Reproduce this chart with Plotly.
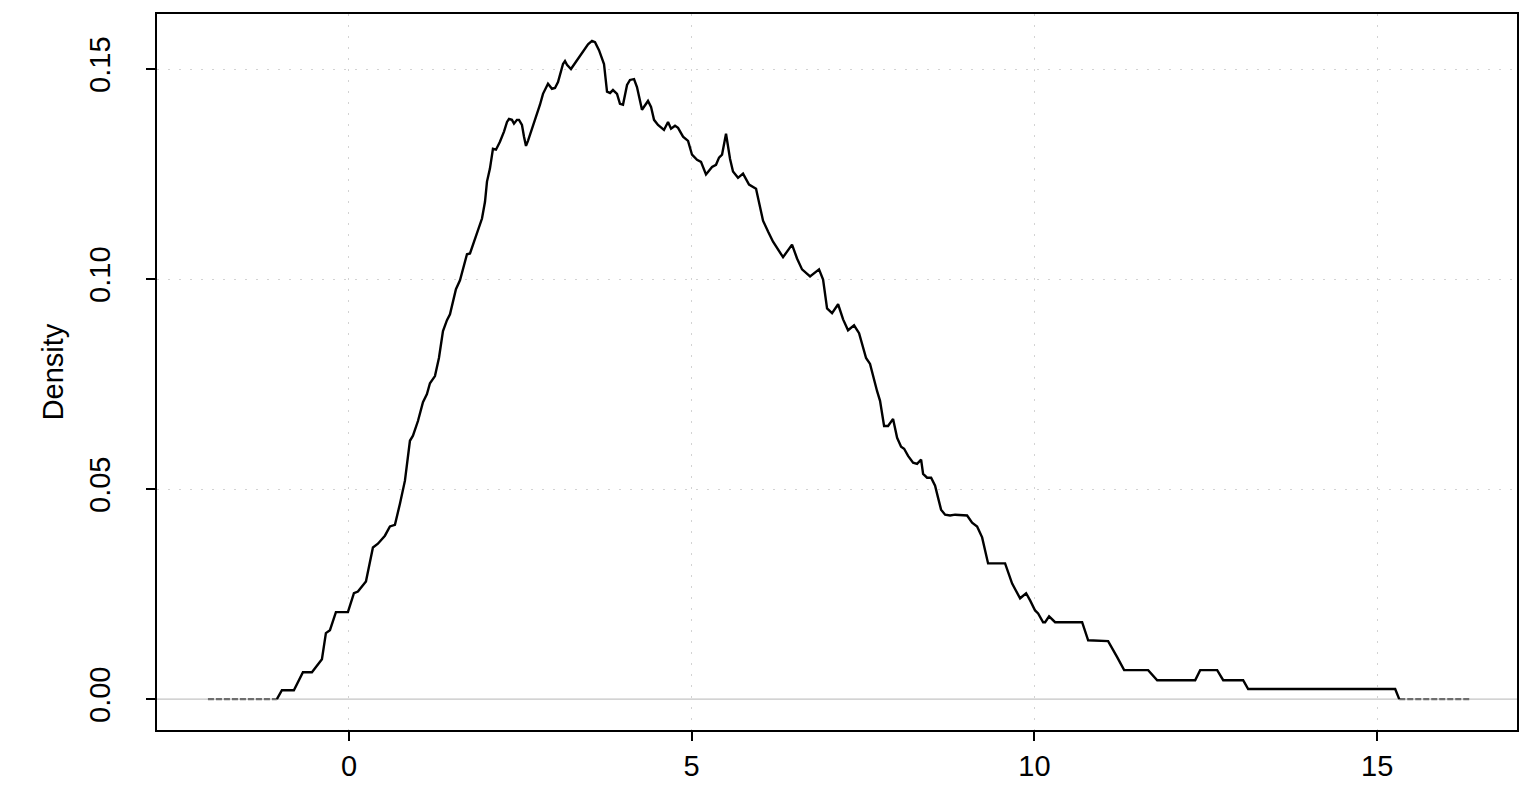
import plotly.graph_objects as go

# Density curve (x value, density)
dens_x = [-1.051, -0.978, -0.803, -0.671, -0.540, -0.394, -0.336, -0.277, -0.190, -0.015,
          0.073, 0.131, 0.248, 0.350, 0.423, 0.525, 0.598, 0.671, 0.744, 0.817,
          0.890, 0.934, 1.007, 1.080, 1.138, 1.182, 1.255, 1.313, 1.372, 1.430,
          1.474, 1.561, 1.620, 1.722, 1.766, 1.839, 1.941, 1.985, 2.014, 2.057,
          2.101, 2.145, 2.203, 2.262, 2.306, 2.335, 2.378, 2.408, 2.451, 2.481,
          2.524, 2.554, 2.583, 2.612, 2.670, 2.743, 2.787, 2.831, 2.889, 2.904,
          2.962, 3.006, 3.050, 3.123, 3.152, 3.181, 3.239, 3.298, 3.371, 3.415,
          3.488, 3.546, 3.590, 3.648, 3.721, 3.765, 3.809, 3.852, 3.911, 3.954,
          3.998, 4.057, 4.100, 4.159, 4.202, 4.275, 4.319, 4.363, 4.407, 4.451,
          4.509, 4.596, 4.655, 4.699, 4.757, 4.801, 4.874, 4.947, 5.005, 5.078,
          5.136, 5.209, 5.297, 5.355, 5.399, 5.443, 5.501, 5.560, 5.603, 5.676,
          5.749, 5.837, 5.939, 5.983, 6.041, 6.114, 6.187, 6.333, 6.464, 6.537,
          6.610, 6.727, 6.858, 6.917, 6.975, 7.048, 7.136, 7.209, 7.281, 7.369,
          7.442, 7.544, 7.602, 7.705, 7.748, 7.807, 7.865, 7.938, 7.997, 8.055,
          8.099, 8.157, 8.230, 8.288, 8.347, 8.376, 8.434, 8.493, 8.551, 8.595,
          8.638, 8.697, 8.770, 8.843, 9.018, 9.091, 9.164, 9.237, 9.324, 9.572,
          9.675, 9.791, 9.879, 9.937, 10.010, 10.054, 10.127, 10.156, 10.214, 10.302,
          10.696, 10.784, 11.075, 11.207, 11.309, 11.659, 11.791, 12.345, 12.418, 12.666,
          12.754, 13.045, 13.118, 15.263, 15.322]
dens_y = [0.0, 0.0021, 0.0021, 0.0064, 0.0064, 0.0095, 0.0157, 0.0164, 0.0207, 0.0207,
          0.0252, 0.0256, 0.0280, 0.0361, 0.0370, 0.0389, 0.0411, 0.0415, 0.0465, 0.0520,
          0.0615, 0.0627, 0.0662, 0.0707, 0.0726, 0.0752, 0.0769, 0.0812, 0.0876, 0.0902,
          0.0916, 0.0976, 0.0997, 0.1059, 0.1061, 0.1097, 0.1144, 0.1184, 0.1232, 0.1263,
          0.1310, 0.1308, 0.1327, 0.1351, 0.1374, 0.1381, 0.1379, 0.1370, 0.1379, 0.1379,
          0.1367, 0.1339, 0.1317, 0.1329, 0.1358, 0.1391, 0.1415, 0.1441, 0.1462, 0.1465,
          0.1453, 0.1455, 0.1469, 0.1512, 0.1519, 0.1510, 0.1500, 0.1514, 0.1529, 0.1540,
          0.1559, 0.1567, 0.1564, 0.1545, 0.1512, 0.1446, 0.1443, 0.1450, 0.1441, 0.1417,
          0.1415, 0.1462, 0.1474, 0.1476, 0.1457, 0.1403, 0.1415, 0.1424, 0.1410, 0.1379,
          0.1367, 0.1355, 0.1374, 0.1358, 0.1365, 0.1360, 0.1339, 0.1329, 0.1296, 0.1284,
          0.1279, 0.1249, 0.1267, 0.1272, 0.1289, 0.1296, 0.1346, 0.1286, 0.1256, 0.1241,
          0.1251, 0.1225, 0.1215, 0.1180, 0.1139, 0.1113, 0.1089, 0.1052, 0.1082, 0.1049,
          0.1023, 0.1006, 0.1023, 0.0999, 0.0930, 0.0919, 0.0940, 0.0904, 0.0878, 0.0890,
          0.0871, 0.0812, 0.0798, 0.0733, 0.0710, 0.0650, 0.0650, 0.0667, 0.0622, 0.0601,
          0.0596, 0.0579, 0.0563, 0.0560, 0.0570, 0.0536, 0.0527, 0.0527, 0.0508, 0.0479,
          0.0451, 0.0439, 0.0437, 0.0439, 0.0437, 0.0420, 0.0411, 0.0385, 0.0323, 0.0323,
          0.0275, 0.0240, 0.0252, 0.0235, 0.0211, 0.0204, 0.0183, 0.0183, 0.0197, 0.0183,
          0.0183, 0.0140, 0.0138, 0.0100, 0.0069, 0.0069, 0.0045, 0.0045, 0.0069, 0.0069,
          0.0045, 0.0045, 0.0024, 0.0024, 0.0]

# flat tails at zero
tail_left_x = [-2.057, -1.051]
tail_right_x = [15.322, 16.343]
tail_y = [0.0, 0.0]

x_ticks = [0, 5, 10, 15]
y_ticks = [0.0, 0.05, 0.10, 0.15]
y_tick_text = ["0.00", "0.05", "0.10", "0.15"]
y_title = "Density"

FONT = "Liberation Sans, Arial, sans-serif"
FS = 29

fig = go.Figure()
fig.add_shape(type="line", xref="paper", x0=0, x1=1, yref="y", y0=0, y1=0,
              line=dict(color="#c4c4c4", width=1.2), layer="below")
for tx in (tail_left_x, tail_right_x):
    fig.add_trace(go.Scatter(x=tx, y=tail_y, mode="lines",
                             line=dict(color="#6e6e6e", width=2.4, dash="6px,2px"),
                             hoverinfo="skip", showlegend=False))
fig.add_trace(go.Scatter(x=dens_x, y=dens_y, mode="lines",
                         line=dict(color="black", width=2.4),
                         showlegend=False))

fig.update_layout(
    width=1518, height=790,
    margin=dict(l=149, r=9, t=4, b=68),
    paper_bgcolor="white", plot_bgcolor="white",
    font=dict(family=FONT, size=FS, color="black"),
    showlegend=False,
)
fig.update_xaxes(
    range=[-2.80, 17.04], tickvals=x_ticks, ticks="outside", ticklen=9,
    tickwidth=1.5, tickcolor="black", showline=True, mirror=True,
    linecolor="black", linewidth=1.5, showgrid=True, gridcolor="#d3d3d3",
    gridwidth=1, griddash="2px,9px", zeroline=False,
    tickfont=dict(family=FONT, size=FS),
)
fig.update_yaxes(
    range=[-0.00736, 0.1631], tickvals=y_ticks, ticktext=y_tick_text,
    tickangle=-90, ticks="outside", ticklen=9, tickwidth=1.5, tickcolor="black",
    showline=True, mirror=True, linecolor="black", linewidth=1.5,
    showgrid=True, gridcolor="#d3d3d3", gridwidth=1, griddash="2px,9px",
    zeroline=False, tickfont=dict(family=FONT, size=FS), ticklabelstandoff=25,
    title=dict(text=y_title, font=dict(family=FONT, size=FS), standoff=12),
)

fig.write_html("out.html")
